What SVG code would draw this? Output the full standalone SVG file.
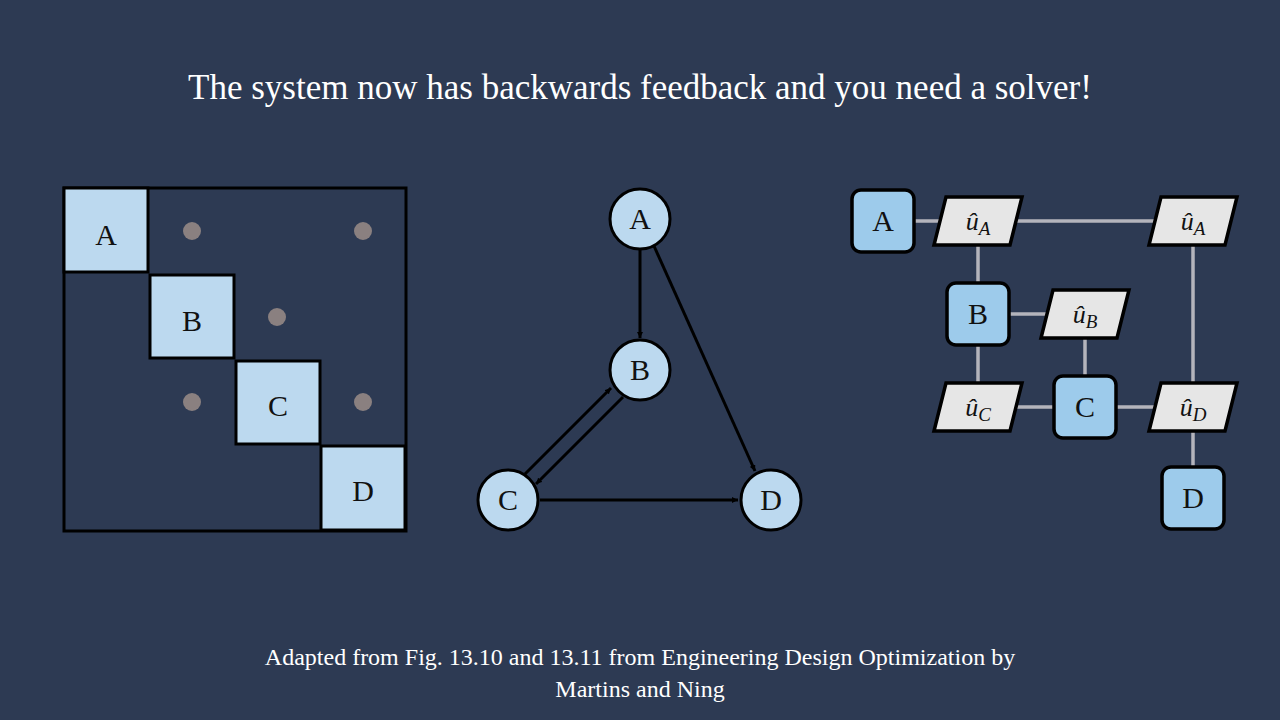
<svg xmlns="http://www.w3.org/2000/svg" width="1280" height="720" viewBox="0 0 1280 720">
<style>
text{font-family:"Liberation Serif","DejaVu Serif",serif;text-anchor:middle}
.t{fill:#fff}
.blk{fill:#bcd9ef;stroke:#000;stroke-width:3}
.dot{fill:#8a8080}
.cir{fill:#bcd9ef;stroke:#000;stroke-width:3}
.sq{fill:#9dcbeb;stroke:#000;stroke-width:3.5}
.pg{fill:#e6e6e6;stroke:#000;stroke-width:3.5}
.e{stroke:#000;stroke-width:3;fill:none;marker-end:url(#ah)}
.g{stroke:#b4b4bc;stroke-width:3.5;fill:none}
.lb{font-size:30px;fill:#111}
.m{font-size:26px;font-style:italic;fill:#111}
.s{font-size:19px;font-style:italic}
</style>
<defs>
<marker id="ah" viewBox="0 0 10 10" refX="10" refY="5" markerWidth="6" markerHeight="6" markerUnits="userSpaceOnUse" orient="auto"><path d="M0,0L10,5L0,10z" fill="#000"/></marker>
<path id="p" d="M-32,-24H44L32,24H-44Z"/>
</defs>
<rect width="1280" height="720" fill="#2d3a53"/>
<text class="t" x="640" y="99" font-size="35">The system now has backwards feedback and you need a solver!</text>
<g id="matrix">
<rect x="64" y="188" width="342" height="343" fill="none" stroke="#000" stroke-width="3"/>
<rect class="blk" x="64" y="188" width="84" height="84"/><text class="lb" x="106" y="245" font-size="38">A</text>
<rect class="blk" x="150" y="275" width="84" height="83"/><text class="lb" x="192" y="331" font-size="38">B</text>
<rect class="blk" x="236" y="361" width="84" height="83"/><text class="lb" x="278" y="416" font-size="38">C</text>
<rect class="blk" x="321" y="446" width="84" height="84"/><text class="lb" x="363" y="501" font-size="38">D</text>
<circle class="dot" cx="192" cy="231" r="9"/><circle class="dot" cx="363" cy="231" r="9"/>
<circle class="dot" cx="277" cy="317" r="9"/><circle class="dot" cx="192" cy="402" r="9"/><circle class="dot" cx="363" cy="402" r="9"/>
</g>
<g id="graph-edges">
<line class="e" x1="640" y1="250" x2="640" y2="338"/>
<line class="e" x1="654" y1="246" x2="755" y2="471"/>
<line class="e" x1="525" y1="474" x2="611" y2="388"/>
<line class="e" x1="623" y1="397" x2="536" y2="484"/>
<line class="e" x1="540" y1="500" x2="738" y2="500"/>
</g>
<g id="gA"><circle class="cir" cx="640" cy="219" r="30"/><text class="lb" x="640" y="229" font-size="27">A</text></g>
<g id="gB"><circle class="cir" cx="640" cy="370" r="30"/><text class="lb" x="640" y="380" font-size="27">B</text></g>
<g id="gC"><circle class="cir" cx="508" cy="500" r="30"/><text class="lb" x="508" y="510" font-size="27">C</text></g>
<g id="gD"><circle class="cir" cx="771" cy="500" r="30"/><text class="lb" x="771" y="510" font-size="27">D</text></g>
<g id="xdsm-lines">
<path class="g" d="M915,221H1193V407M978,221V407M978,314H1085V407M978,407H1193V468"/>
</g>
<g id="xA"><rect class="sq" x="852" y="190" width="62" height="62" rx="9"/><text class="lb" x="883" y="231" font-size="29">A</text></g>
<g id="xB"><rect class="sq" x="947" y="283" width="62" height="62" rx="9"/><text class="lb" x="978" y="324" font-size="29">B</text></g>
<g id="xC"><rect class="sq" x="1054" y="376" width="62" height="62" rx="9"/><text class="lb" x="1085" y="417" font-size="29">C</text></g>
<g id="xD"><rect class="sq" x="1162" y="467" width="62" height="62" rx="9"/><text class="lb" x="1193" y="508" font-size="29">D</text></g>
<g id="uA1"><use href="#p" x="978" y="221" class="pg"/><text class="m" x="978" y="230">û<tspan class="s" dy="5">A</tspan></text></g>
<g id="uA2"><use href="#p" x="1193" y="221" class="pg"/><text class="m" x="1193" y="230">û<tspan class="s" dy="5">A</tspan></text></g>
<g id="uB"><use href="#p" x="1085" y="314" class="pg"/><text class="m" x="1085" y="323">û<tspan class="s" dy="5">B</tspan></text></g>
<g id="uC"><use href="#p" x="978" y="407" class="pg"/><text class="m" x="978" y="416">û<tspan class="s" dy="5">C</tspan></text></g>
<g id="uD"><use href="#p" x="1193" y="407" class="pg"/><text class="m" x="1193" y="416">û<tspan class="s" dy="5">D</tspan></text></g>
<text class="t" x="640" y="665" font-size="24">Adapted from Fig. 13.10 and 13.11 from Engineering Design Optimization by</text>
<text class="t" x="640" y="697" font-size="24">Martins and Ning</text>
</svg>
